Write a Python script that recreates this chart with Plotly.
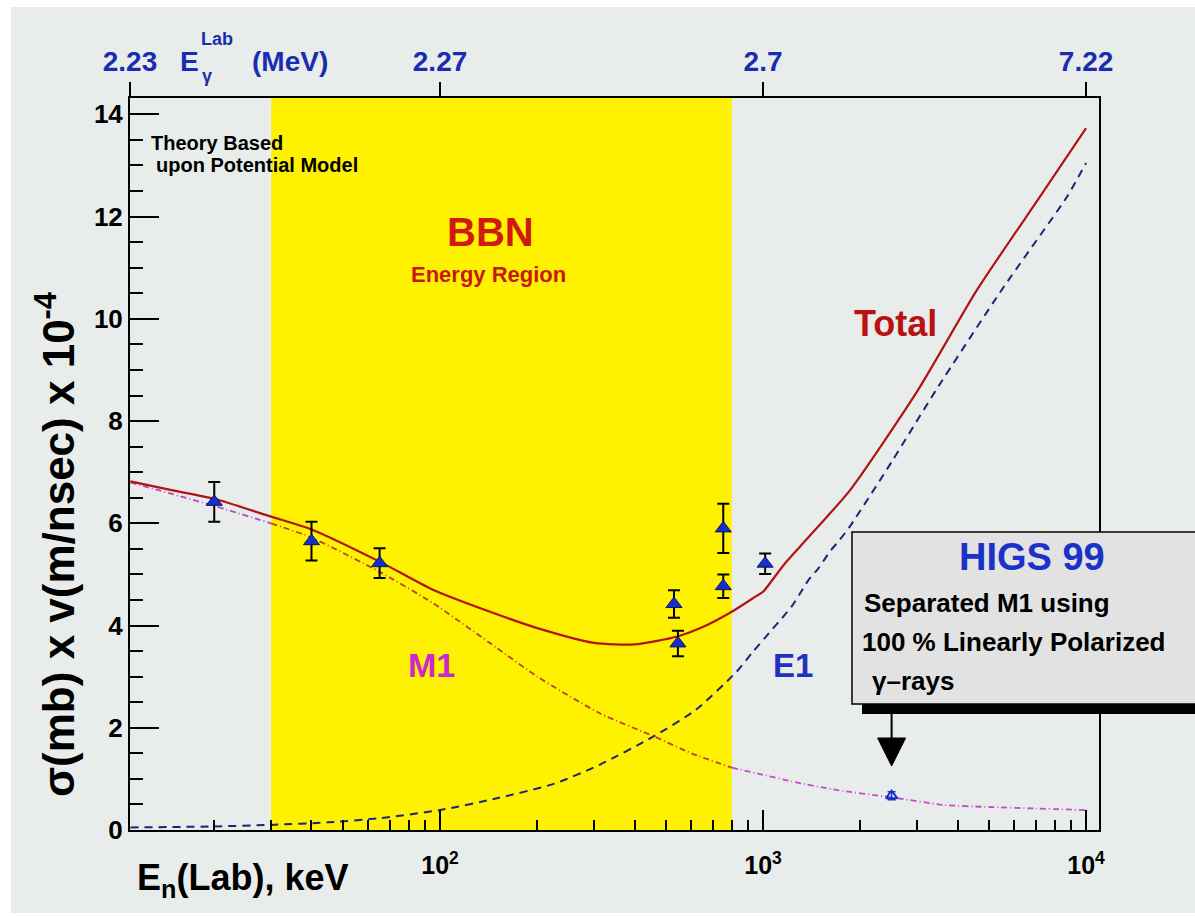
import numpy as np
import plotly.graph_objects as go

# ---------------- data ----------------
# axis limits (neutron lab energy, keV) and y limit
E_LO, E_HI = 10.97, 10965.0
Y_HI = 14.32

# BBN energy window (keV)
bbn_band = [30, 800]

# theory curves: total, M1 and E1 contributions
E_tot = [11, 15, 20, 30, 40, 65, 95, 150, 200, 300, 400, 540, 640, 810, 955, 1000,
         1160, 1330, 1860, 3020, 4600, 7200, 10000]
sig_tot = [6.82, 6.64, 6.48, 6.13, 5.88, 5.25, 4.70, 4.22, 3.95, 3.66, 3.63, 3.78,
           3.95, 4.29, 4.58, 4.66, 5.19, 5.61, 6.65, 8.61, 10.57, 12.39, 13.73]

E_m1 = [11, 20, 30, 40, 65, 95, 150, 200, 313, 460, 600, 800, 1000, 1225, 1700,
        2490, 3630, 5000, 7000, 10000]
sig_m1 = [6.80, 6.34, 6.00, 5.72, 5.05, 4.44, 3.56, 3.00, 2.28, 1.83, 1.50, 1.22,
          1.08, 0.95, 0.78, 0.64, 0.49, 0.45, 0.42, 0.39]

E_e1 = [11, 20, 30, 45, 65, 100, 150, 227, 313, 458, 619, 829, 923, 1052, 1143,
        1228, 1303, 1382, 1484, 1611, 1729, 1858, 2500, 3435, 5485, 8730, 10000]
sig_e1 = [0.05, 0.07, 0.10, 0.15, 0.23, 0.39, 0.62, 0.91, 1.28, 1.83, 2.35, 3.10,
          3.46, 3.88, 4.14, 4.38, 4.63, 4.89, 5.12, 5.45, 5.68, 5.94, 7.20, 8.61,
          10.57, 12.39, 13.05]

# measured points
E_meas = [20, 40, 65, 530, 545, 753, 753, 1015]
sig_meas = [6.42, 5.65, 5.22, 4.42, 3.65, 5.90, 4.77, 5.21]
err_meas = [0.39, 0.38, 0.29, 0.27, 0.25, 0.48, 0.23, 0.20]

# HIGS 99 separated M1 point
E_higs = [2500]
sig_higs = [0.67]
err_higs = [0.08]

# top axis: photon lab energy (MeV)
top_ticks_E = [E_LO, 100, 1000, 10000]
top_labels = ["2.23", "2.27", "2.7", "7.22"]

bottom_ticks = [100, 1000, 10000]
bottom_labels = ["10<sup>2</sup>", "10<sup>3</sup>", "10<sup>4</sup>"]
minor_ticks = [m * d for d in (10, 100, 1000) for m in range(2, 10) if E_LO < m * d < E_HI]

# ---------------- styling helpers ----------------
FONT = "Liberation Sans"
BG = "#E8ECEA"
L, R, T, B = 130, 1099, 98, 830  # plot-area edges in page pixels
W, H = 1195, 916


def px(x):
    return (x - L) / (R - L)


def py(y):
    return (B - y) / (B - T)


def bold(size, color="black"):
    return dict(family=FONT, size=size, color=color, weight="bold")


fig = go.Figure()

# BBN energy window
fig.add_trace(go.Scatter(
    x=[bbn_band[0], bbn_band[1], bbn_band[1], bbn_band[0], bbn_band[0]],
    y=[0, 0, Y_HI, Y_HI, 0], mode="lines", fill="toself",
    fillcolor="#FFF200", line=dict(width=0), hoverinfo="skip", showlegend=False))

# E1 contribution
fig.add_trace(go.Scatter(x=E_e1, y=sig_e1, mode="lines", showlegend=False,
                         line=dict(color="#1C2478", width=2, dash="8px,6px",
                                   shape="spline", smoothing=0.6)))

# M1 contribution, coloured per region
E_m1_a = np.array(E_m1)
sig_m1_a = np.array(sig_m1)
segments = [
    (E_m1_a <= bbn_band[0], "#B848C0"),
    (E_m1_a >= bbn_band[1], "#C848D0"),
    ((E_m1_a >= bbn_band[0]) & (E_m1_a <= bbn_band[1]), "#B8402C"),
]
for mask, col in segments:
    fig.add_trace(go.Scatter(x=E_m1_a[mask], y=sig_m1_a[mask], mode="lines",
                             showlegend=False,
                             line=dict(color=col, width=1.8, dash="6px,3px,1px,3px",
                                       shape="spline", smoothing=0.6)))

# total
fig.add_trace(go.Scatter(x=E_tot, y=sig_tot, mode="lines", showlegend=False,
                         line=dict(color="#B01414", width=2.2,
                                   shape="spline", smoothing=0.6)))

# measurements
fig.add_trace(go.Scatter(
    x=E_meas, y=sig_meas, mode="markers", showlegend=False,
    marker=dict(symbol="triangle-up", size=14, color="#1530C8",
                line=dict(color="#0A1470", width=1)),
    error_y=dict(type="data", array=err_meas, color="black", thickness=2, width=6)))

fig.add_trace(go.Scatter(
    x=E_higs, y=sig_higs, mode="markers", showlegend=False,
    marker=dict(symbol="triangle-up-open", size=10, color="#1530C8",
                line=dict(color="#1530C8", width=2)),
    error_y=dict(type="data", array=err_higs, color="#1530C8", thickness=1.5, width=4)))

# carrier for the top axis
fig.add_trace(go.Scatter(x=[100], y=[0], xaxis="x2", mode="markers",
                         marker=dict(opacity=0), hoverinfo="skip", showlegend=False))

xr = [np.log10(E_LO), np.log10(E_HI)]

fig.update_layout(
    width=W, height=H,
    margin=dict(l=L, r=W - R, t=T, b=H - B, pad=0),
    paper_bgcolor="white", plot_bgcolor="rgba(0,0,0,0)",
    font=dict(family=FONT),
    xaxis=dict(
        type="log", range=xr, tickmode="array", tickvals=bottom_ticks,
        ticktext=bottom_labels, ticks="inside", ticklen=20, tickwidth=2,
        tickcolor="black", showline=True, linewidth=2, linecolor="black",
        mirror=True, showgrid=False, zeroline=False, tickfont=bold(25),
        ticklabelstandoff=12,
        minor=dict(tickmode="array", tickvals=minor_ticks, ticks="inside",
                   ticklen=10, tickwidth=2, tickcolor="black", showgrid=False),
    ),
    xaxis2=dict(
        type="log", range=xr, overlaying="x", side="top", anchor="y",
        tickmode="array", tickvals=top_ticks_E, ticktext=top_labels,
        ticks="outside", ticklen=15, tickwidth=2, tickcolor="black",
        showline=False, showgrid=False, zeroline=False,
        tickfont=bold(28, "#1A2CB0"),
    ),
    yaxis=dict(
        range=[0, Y_HI], tick0=0, dtick=2, ticks="inside", ticklen=29,
        tickwidth=2, tickcolor="black", showline=True, linewidth=2,
        linecolor="black", mirror=True, showgrid=False, zeroline=False,
        tickfont=bold(26),
        minor=dict(dtick=0.5, ticks="inside", ticklen=13, tickwidth=2,
                   tickcolor="black", showgrid=False),
    ),
)

# page background, HIGS box and arrow
x_arrow = (np.log10(E_higs[0]) - xr[0]) / (xr[1] - xr[0])
shapes = [
    dict(type="rect", xref="paper", yref="paper", layer="below",
         x0=px(11), x1=px(1200), y0=py(913), y1=py(7),
         fillcolor=BG, line=dict(width=0)),
    dict(type="rect", xref="paper", yref="paper", layer="above",
         x0=px(862), x1=px(1200), y0=py(714), y1=py(703),
         fillcolor="black", line=dict(width=0)),
    dict(type="rect", xref="paper", yref="paper", layer="above",
         x0=px(852), x1=px(1205), y0=py(704), y1=py(532),
         fillcolor="#E2E2E2", line=dict(color="black", width=1.5)),
    dict(type="line", xref="paper", yref="paper", layer="above",
         x0=x_arrow, x1=x_arrow, y0=py(713), y1=py(742),
         line=dict(color="black", width=2)),
]
dx = 14 / (R - L)
shapes.append(dict(
    type="path", xref="paper", yref="paper", layer="above",
    path=f"M {x_arrow - dx},{py(738)} L {x_arrow + dx},{py(738)} L {x_arrow},{py(766)} Z",
    fillcolor="black", line=dict(color="black", width=1)))
fig.update_layout(shapes=shapes)


def note(text, x, y, size, color="black", xanchor="center", angle=0):
    fig.add_annotation(text=text, xref="paper", yref="paper", x=px(x), y=py(y),
                       xanchor=xanchor, yanchor="middle", showarrow=False,
                       textangle=angle, font=bold(size, color))


note("Theory Based", 149, 143, 20, xanchor="left")
note("upon Potential Model", 154, 165, 20, xanchor="left")
note("BBN", 490, 232, 40, "#D01A10")
note("Energy Region", 488, 274, 22, "#C81810")
note("Total", 895, 323, 36, "#B81212")
note("M1", 431, 665, 34, "#CC28CC")
note("E1", 793, 665, 33, "#1C32C0")
note("HIGS 99", 1032, 557, 38, "#1A32C8")
note("Separated M1 using", 862, 603, 26, xanchor="left")
note("100 % Linearly Polarized", 860, 642, 26, xanchor="left")
note("γ–rays", 870, 681, 26, xanchor="left")
note("E<sub>n</sub>(Lab), keV", 135, 880, 36, xanchor="left")
note("σ(mb) x v(m/nsec) x 10<sup>-4</sup>", 55, 545, 44, angle=-90)
# top axis title
note("E", 189, 62, 28, "#1A2CB0")
note("Lab", 199, 39, 18, "#1A2CB0", xanchor="left")
note("γ", 200, 76, 18, "#1A2CB0", xanchor="left")
note("(MeV)", 250, 62, 28, "#1A2CB0", xanchor="left")

fig.write_html("out.html")
